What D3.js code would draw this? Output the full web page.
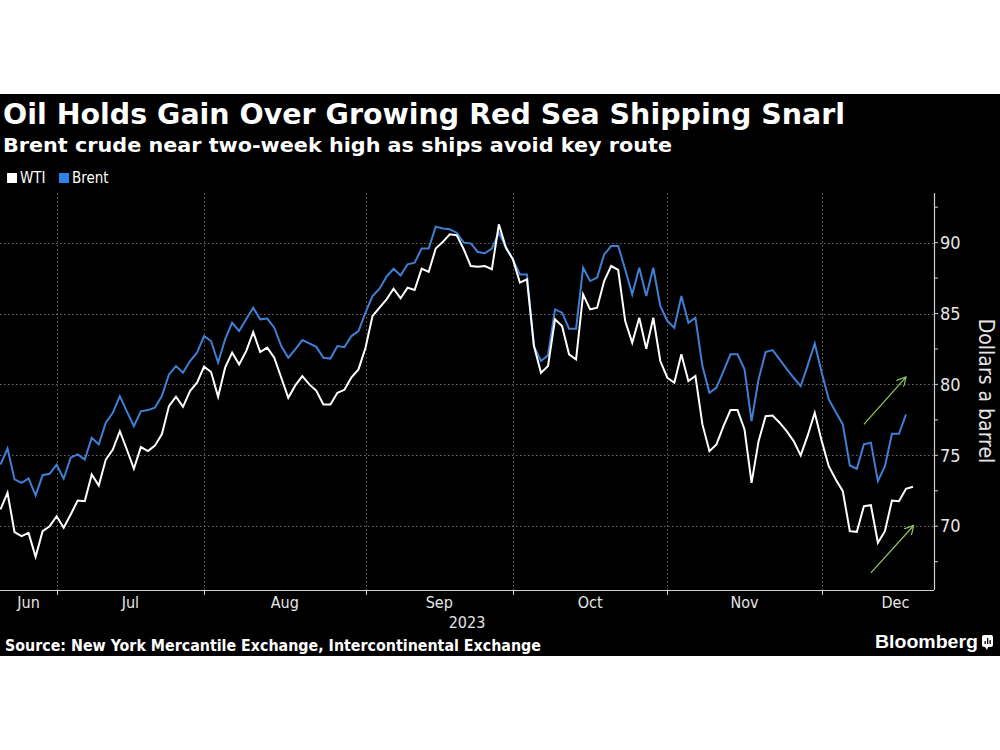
<!DOCTYPE html>
<html>
<head>
<meta charset="utf-8">
<script src="https://cdn.jsdelivr.net/npm/d3@7"></script>
<style>
  body { margin: 0; background: #fff; }
</style>
</head>
<body>
<script>
// chart size + the black panel
var width = 1000,
    height = 750;

// daily closes, one value per trading day (Jun 21 .. Dec 18, 2023)
var wti = [71.18, 72.36, 69.58, 69.3, 69.53, 67.84, 69.65, 70.0,
  70.7, 69.89, 70.83, 71.81, 71.76, 73.65, 72.87, 74.7, 75.41, 76.7, 75.41, 74.05, 75.58, 75.3, 75.68, 76.5, 78.47, 79.13, 78.42, 79.53, 80.12,
  81.25, 80.87, 79.13, 81.18, 82.24, 81.41, 82.35, 83.69, 82.28, 82.59, 81.88, 80.47, 79.06, 79.93, 80.59, 80.0, 79.55, 78.59, 78.59, 79.41, 79.62, 80.5, 81.06,
  82.59, 84.82, 85.41, 86.0, 86.75, 86.07, 86.82, 86.66, 88.16, 87.93, 89.58, 90.04, 90.59, 90.52, 89.53, 88.35, 88.3, 88.35, 88.12, 91.29, 89.65,
  88.82, 87.18, 87.41, 82.7, 80.82, 81.29, 84.59, 84.12, 82.12, 81.76, 86.35, 85.29, 85.41, 87.29, 88.35, 88.07, 84.47, 82.94, 84.7, 82.52, 84.7, 81.65,
  80.47, 80.12, 82.12, 80.23, 80.59, 77.18, 75.29, 75.77, 77.06, 78.19, 78.19, 76.82, 73.06, 76.0, 77.76, 77.81, 77.3, 76.71, 76.0, 74.99, 76.4, 78.0,
  76.0, 74.23, 73.3, 72.47, 69.65, 69.6, 71.41, 71.48, 68.83, 69.65, 71.81, 71.76, 72.64, 72.78];

var brent = [74.35, 75.48, 73.3, 73.06, 73.37, 72.17, 73.6, 73.7,
  74.35, 73.35, 74.83, 75.06, 74.7, 76.24, 75.77, 77.3, 78.0, 79.17, 78.1, 77.06, 78.1, 78.19, 78.36, 79.2, 80.7, 81.29, 80.82, 81.65, 82.24,
  83.41, 83.06, 81.53, 83.18, 84.35, 83.76, 84.59, 85.41, 84.59, 84.64, 84.0, 82.7, 81.88, 82.47, 83.13, 82.9, 82.65, 81.88, 81.82, 82.7, 82.63, 83.41, 83.76,
  85.06, 86.23, 86.75, 87.6, 88.16, 87.69, 88.47, 88.59, 89.58, 89.58, 91.13, 91.0, 90.94, 90.7, 90.0, 89.95, 89.34, 89.25, 89.58, 90.7, 89.65,
  88.82, 87.76, 87.76, 82.7, 81.65, 82.05, 85.29, 85.06, 83.93, 83.93, 88.23, 87.29, 87.53, 89.17, 89.76, 89.76, 88.1, 86.35, 88.23, 86.23, 88.23, 85.53,
  84.47, 84.0, 86.23, 84.35, 84.7, 81.29, 79.41, 79.77, 80.94, 82.12, 82.12, 81.06, 77.41, 80.35, 82.28, 82.42, 81.76, 81.1, 80.47, 79.88, 81.34, 82.89,
  80.82, 78.94, 78.05, 77.18, 74.28, 74.05, 75.77, 75.89, 73.18, 74.23, 76.52, 76.52, 77.88];

// month names and the trading-day index where each month starts (last = end of Dec)
var months = ["Jun", "Jul", "Aug", "Sep", "Oct", "Nov", "Dec"];
var monthStarts = [0, 8, 29, 52, 73, 95, 117, 138];

var yMajor = [70, 75, 80, 85, 90];
var yMinor = [67.5, 72.5, 77.5, 82.5, 87.5, 92.5];

// green arrows drawn on the chart: [startIndex, startValue, endIndex, endValue]
var arrows = [[123, 77.18, 129, 80.52], [124, 66.71, 130.1, 70.05]];

var blue = "#3f7fd6";
var narrow = "'Liberation Sans Narrow', 'DejaVu Sans Condensed', 'Roboto', sans-serif";

var svg = d3.select("body").append("svg")
    .attr("width", width)
    .attr("height", height);

svg.append("rect")
    .attr("x", 0).attr("y", 94)
    .attr("width", width).attr("height", 562)
    .attr("fill", "#000");

var plotLeft = 0, plotRight = 934, plotTop = 193, plotBottom = 590;

var x = d3.scaleLinear().domain([0, 130]).range([0.5, 913]);
var y = d3.scaleLinear().domain([65.5, 93.5]).range([plotBottom, plotTop]);

// title block
svg.append("text")
    .attr("x", 3).attr("y", 124)
    .attr("fill", "#fff")
    .style("font-family", "'DejaVu Sans', sans-serif")
    .style("font-weight", "bold")
    .style("font-size", "28px")
    .attr("textLength", 842)
    .attr("lengthAdjust", "spacingAndGlyphs")
    .text("Oil Holds Gain Over Growing Red Sea Shipping Snarl");

svg.append("text")
    .attr("x", 3).attr("y", 152)
    .attr("fill", "#fff")
    .style("font-family", "'DejaVu Sans', sans-serif")
    .style("font-weight", "bold")
    .style("font-size", "20px")
    .attr("textLength", 669)
    .attr("lengthAdjust", "spacingAndGlyphs")
    .text("Brent crude near two-week high as ships avoid key route");

// legend
var legend = [["WTI", "#fff", 7], ["Brent", "#2f80ea", 59]];
legend.forEach(function (d) {
  svg.append("rect")
      .attr("x", d[2]).attr("y", 173)
      .attr("width", 10).attr("height", 10)
      .attr("fill", d[1]);
  svg.append("text")
      .attr("x", d[2] + 13).attr("y", 183)
      .attr("fill", "#fff")
      .style("font-family", narrow)
      .style("font-size", "15px")
      .text(d[0]);
});

// grid
var grid = svg.append("g").attr("stroke", "#6a6a6a").attr("stroke-dasharray", "1.5,2.5").attr("stroke-width", 1);
grid.selectAll("line.h")
    .data(yMajor)
    .enter().append("line")
    .attr("x1", plotLeft).attr("x2", plotRight)
    .attr("y1", d => Math.round(y(d)) + 0.5)
    .attr("y2", d => Math.round(y(d)) + 0.5);
grid.selectAll("line.v")
    .data(monthStarts.slice(1, 7))
    .enter().append("line")
    .attr("x1", d => Math.round(x(d)) + 0.5)
    .attr("x2", d => Math.round(x(d)) + 0.5)
    .attr("y1", plotTop).attr("y2", plotBottom);

// x axis
svg.append("line")
    .attr("x1", plotLeft).attr("x2", plotRight)
    .attr("y1", plotBottom + 0.5).attr("y2", plotBottom + 0.5)
    .attr("stroke", "#cfcfcf").attr("stroke-width", 1.2);
svg.selectAll("line.xt")
    .data(monthStarts.slice(1, 7))
    .enter().append("line")
    .attr("x1", d => Math.round(x(d)) + 0.5)
    .attr("x2", d => Math.round(x(d)) + 0.5)
    .attr("y1", plotBottom).attr("y2", plotBottom + 5)
    .attr("stroke", "#cfcfcf");
svg.selectAll("text.month")
    .data(months)
    .enter().append("text")
    .attr("x", (d, i) => (x(monthStarts[i]) + x(monthStarts[i + 1])) / 2)
    .attr("y", 608)
    .attr("text-anchor", "middle")
    .attr("fill", "#e6e6e6")
    .style("font-family", narrow)
    .style("font-size", "16px")
    .text(d => d);
svg.append("text")
    .attr("x", (plotLeft + plotRight) / 2).attr("y", 628)
    .attr("text-anchor", "middle")
    .attr("fill", "#e6e6e6")
    .style("font-family", narrow)
    .style("font-size", "16px")
    .text("2023");

// y axis on the right
svg.append("line")
    .attr("x1", plotRight + 0.5).attr("x2", plotRight + 0.5)
    .attr("y1", plotTop).attr("y2", plotBottom)
    .attr("stroke", "#cfcfcf").attr("stroke-width", 1.2);
svg.selectAll("line.yt")
    .data(yMajor.concat(yMinor))
    .enter().append("line")
    .attr("x1", plotRight).attr("x2", plotRight + 4)
    .attr("y1", d => y(d)).attr("y2", d => y(d))
    .attr("stroke", "#cfcfcf");
svg.selectAll("text.yl")
    .data(yMajor)
    .enter().append("text")
    .attr("x", 940)
    .attr("y", d => y(d))
    .attr("dy", "0.35em")
    .attr("fill", "#e6e6e6")
    .style("font-family", narrow)
    .style("font-size", "18px")
    .text(d => d);
svg.append("text")
    .attr("transform", "translate(979,391) rotate(90)")
    .attr("text-anchor", "middle")
    .attr("fill", "#e6e6e6")
    .style("font-family", narrow)
    .style("font-size", "21px")
    .text("Dollars a barrel");

// lines
var line = d3.line()
    .x((d, i) => x(i))
    .y(d => y(d));

svg.append("path")
    .datum(brent)
    .attr("d", line)
    .attr("fill", "none")
    .attr("stroke", blue)
    .attr("stroke-width", 2);

svg.append("path")
    .datum(wti)
    .attr("d", line)
    .attr("fill", "none")
    .attr("stroke", "#fff")
    .attr("stroke-width", 2);

// arrows
svg.append("defs").append("marker")
    .attr("id", "head")
    .attr("viewBox", "0 0 10 10")
    .attr("refX", 9).attr("refY", 5)
    .attr("markerWidth", 10).attr("markerHeight", 10)
    .attr("markerUnits", "userSpaceOnUse")
    .attr("orient", "auto")
    .append("path")
    .attr("d", "M0,0 L9,5 L0,10")
    .attr("fill", "none")
    .attr("stroke", "#95c95f")
    .attr("stroke-width", 1.2);

svg.selectAll("line.arrow")
    .data(arrows)
    .enter().append("line")
    .attr("x1", d => x(d[0])).attr("y1", d => y(d[1]))
    .attr("x2", d => x(d[2])).attr("y2", d => y(d[3]))
    .attr("stroke", "#95c95f")
    .attr("stroke-width", 1.2)
    .attr("marker-end", "url(#head)");

// footer
svg.append("text")
    .attr("x", 5).attr("y", 651)
    .attr("fill", "#fff")
    .style("font-family", narrow)
    .style("font-weight", "bold")
    .style("font-size", "15px")
    .attr("textLength", 536)
    .attr("lengthAdjust", "spacingAndGlyphs")
    .text("Source: New York Mercantile Exchange, Intercontinental Exchange");

svg.append("text")
    .attr("x", 875).attr("y", 648)
    .attr("fill", "#fff")
    .style("font-family", "'Liberation Sans', sans-serif")
    .style("font-weight", "bold")
    .style("font-size", "18px")
    .attr("textLength", 103)
    .attr("lengthAdjust", "spacingAndGlyphs")
    .text("Bloomberg");

// small logo box
var logo = svg.append("g").attr("transform", "translate(982,635)");
logo.append("rect").attr("width", 11).attr("height", 12).attr("rx", 2).attr("fill", "#fff");
logo.append("path").attr("d", "M3,12 L5,15 L6,12 Z").attr("fill", "#fff");
[[2.5, 6], [5, 3], [7.5, 5]].forEach(function (b) {
  logo.append("rect").attr("x", b[0]).attr("y", b[1]).attr("width", 1.3).attr("height", 9 - b[1]).attr("fill", "#000");
});
</script>
</body>
</html>
